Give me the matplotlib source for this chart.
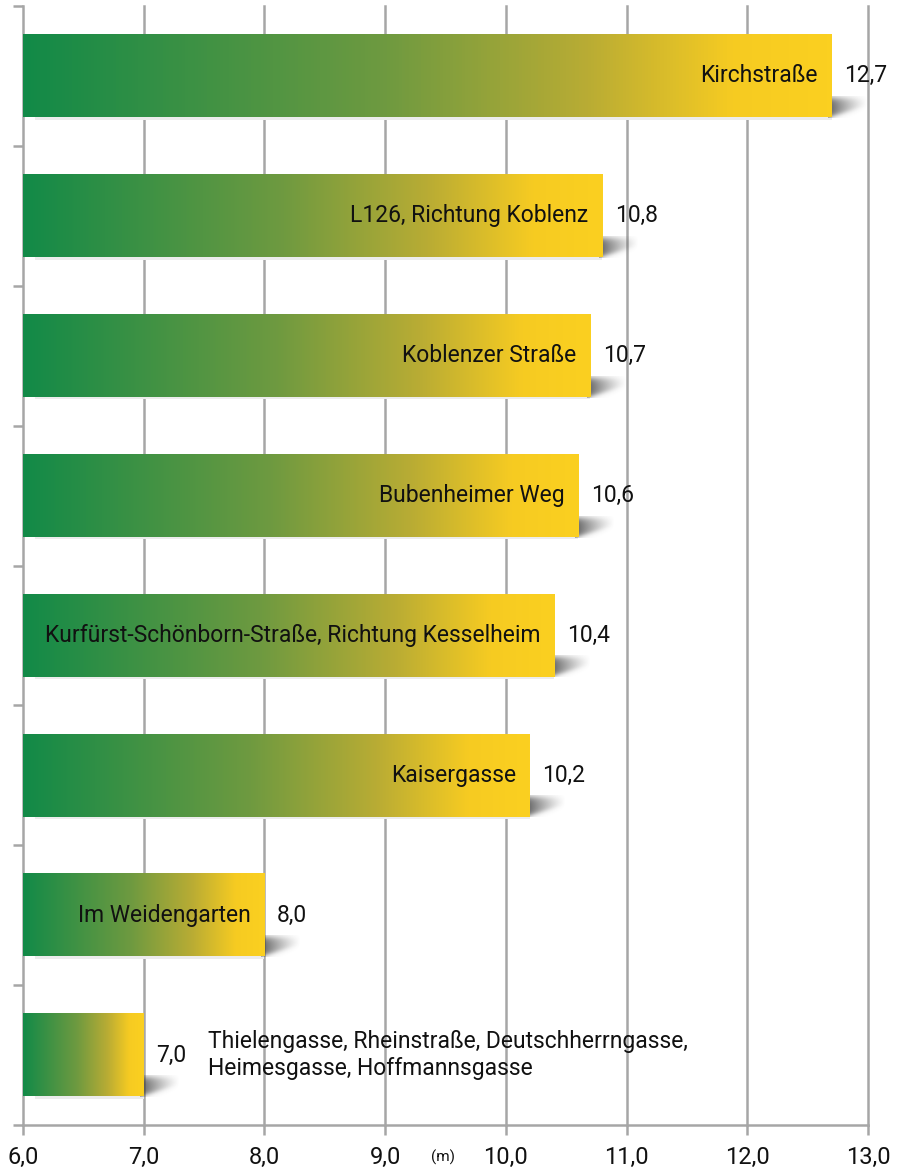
import numpy as np
import matplotlib
matplotlib.use("Agg")
import matplotlib.pyplot as plt
from matplotlib.colors import LinearSegmentedColormap

streets = ["Kirchstraße", "L126, Richtung Koblenz", "Koblenzer Straße", "Bubenheimer Weg",
           "Kurfürst-Schönborn-Straße, Richtung Kesselheim", "Kaisergasse", "Im Weidengarten",
           "Thielengasse, Rheinstraße, Deutschherrngasse,\nHeimesgasse, Hoffmannsgasse"]
values = [12.7, 10.8, 10.7, 10.6, 10.4, 10.2, 8.0, 7.0]
value_labels = ["12,7", "10,8", "10,7", "10,6", "10,4", "10,2", "8,0", "7,0"]
xticks = [6, 7, 8, 9, 10, 11, 12, 13]
xtick_labels = ["6,0", "7,0", "8,0", "9,0", "10,0", "11,0", "12,0", "13,0"]

plt.rcParams['font.family'] = ["Roboto", "DejaVu Sans"]
FS = 16.5

W, H = 897, 1173
fig = plt.figure(figsize=(W / 100, H / 100), dpi=100)
ax = fig.add_axes([23 / W, (H - 1125) / H, (868 - 23) / W, (1125 - 6) / H])

cmap = LinearSegmentedColormap.from_list("gy", [
    (0.0, "#128a48"), (0.45, "#6f9a40"), (0.70, "#b9ac34"), (0.88, "#f6cb22"), (1.0, "#fbd020")])

n = len(values)
bh = 0.59
xmin, xmax = 6, 13
ax.set_xlim(xmin, xmax)
ax.set_ylim(n - 0.5, -0.5)

grad = np.linspace(0, 1, 256).reshape(1, -1)


def sig(z):
    return 1.0 / (1.0 + np.exp(-z))


nu, nv = 100, 60
uu, vv = np.meshgrid(np.linspace(0, 1, nu), np.linspace(0, 1, nv))
ww = 1 - vv  # image row 0 = top -> ww = 1 at top
lb = 0.02 + 0.55 * uu
ub = 0.92 - 0.05 * uu
shadow_alpha = 0.85 * np.clip(1 - uu, 0, 1) ** 1.2 * sig((ww - lb) / 0.07) * sig((ub - ww) / 0.09)
shadow = np.zeros((nv, nu, 4))
shadow[..., :3] = 0.25
shadow[..., 3] = shadow_alpha

for i, (v, s) in enumerate(zip(values, streets)):
    top = i - bh / 2
    bot = i + bh / 2
    ax.imshow(shadow, extent=[v - 0.03, v + 0.30, bot + 0.005, bot - 0.15], aspect="auto",
              zorder=2, interpolation="bilinear", origin="upper")
    ax.fill_between([xmin + 0.1, v], bot, bot + 0.018, color="#ececec", zorder=1.5, lw=0)
    ax.imshow(grad, extent=[xmin, v, bot, top], aspect="auto", cmap=cmap, zorder=3,
              interpolation="bilinear")
    ax.annotate(value_labels[i], xy=(v, i), xytext=(9, 0), textcoords="offset points",
                ha="left", va="center", fontsize=FS, color="#111111", zorder=5)
    if i < n - 1:
        ax.annotate(s, xy=(v, i), xytext=(-10, 0), textcoords="offset points",
                    ha="right", va="center", fontsize=FS, color="#111111", zorder=5)
    else:
        ax.annotate(s, xy=(v, i), xytext=(46, 0), textcoords="offset points",
                    ha="left", va="center", fontsize=FS, color="#111111", zorder=5,
                    linespacing=1.2)

ax.set_xlim(xmin, xmax)
ax.set_ylim(n - 0.5, -0.5)

for x in xticks[1:]:
    ax.axvline(x, color="#a6a6a6", lw=1.8, zorder=1, clip_on=False)

for side in ["top", "right"]:
    ax.spines[side].set_visible(False)
for side in ["left", "bottom"]:
    ax.spines[side].set_color("#a6a6a6")
    ax.spines[side].set_linewidth(1.8)

ax.set_xticks(xticks)
ax.set_xticklabels(xtick_labels, fontsize=17, color="#111111")
ax.set_yticks(np.arange(-0.5, n, 1.0))
ax.set_yticklabels([])
ax.tick_params(axis="x", direction="out", length=7, width=1.8, color="#a6a6a6", pad=8)
ax.tick_params(axis="y", direction="out", length=7, width=1.8, color="#a6a6a6")
ax.set_facecolor("white")

fig.text(443 / W, 1 - 1157 / H, "(m)", ha="center", va="center", fontsize=11, color="#111111")

fig.savefig("out.png", dpi=100, facecolor="white")
